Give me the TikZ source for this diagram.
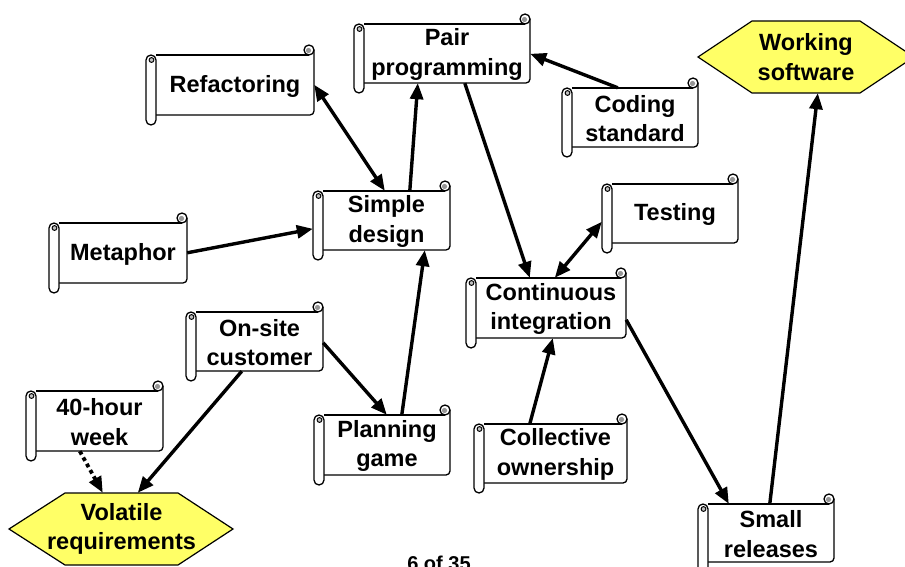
\documentclass[tikz,border=0pt]{standalone}
\usepackage{fontspec}
\setmainfont{Liberation Sans}
\usetikzlibrary{arrows.meta,calc}

\definecolor{hexyellow}{RGB}{255,255,102}
\definecolor{curlgray}{RGB}{150,150,150}

\tikzset{
  arw/.tip={Triangle[length=16pt,width=13pt]},
  scrollline/.style={draw=black, line width=1.3pt, line join=round},
  lbl/.style={font=\fontsize{23.5}{29.5}\selectfont\bfseries, align=center, text=black, inner sep=0pt},
  conn/.style={line width=3.4pt, -arw},
  connboth/.style={line width=3.4pt, arw-arw},
  conndot/.style={line width=3.8pt, dash pattern=on 3.8pt off 3.4pt, -arw},
  hexshape/.style={fill=hexyellow, draw=black, line width=1.2pt, line join=miter},
}

% Horizontal scroll: #1 name, #2 left, #3 top, #4 right, #5 bottom, #6 text
\newcommand\scrollbox[6]{%
  \fill[white] (#2+10,#3) rectangle (#4,#5);
  \draw[scrollline] (#2+10,#3) -- (#4-5,#3);
  \draw[scrollline, rounded corners=4pt] (#4,#3-5) -- (#4,#5) -- (#2+10,#5);
  \draw[scrollline, fill=white] (#4-5,#3-5) circle[radius=5pt];
  \fill[curlgray] (#4-5.5,#3-4.5) circle[radius=2.6pt];
  \draw[scrollline, fill=white, rounded corners=5pt] (#2,#3) rectangle (#2+10,#5+10);
  \draw[line width=1pt, fill=curlgray!60] (#2+5.5,#3+5) circle[radius=2.4pt];
  \node[name=#1, shape=rectangle, inner sep=0pt,
        minimum width={(#4-#2-10)*1pt}, minimum height={(#5-#3)*1pt}]
        at ({(#2+10+#4)/2},{(#3+#5)/2}) {};
  \node[lbl] at ($(#1)+(0,1)$) {#6};
}

% Hexagon: #1 name, #2 left tip, #3 top-left, #4 top-right, #5 right tip, #6 top, #7 bottom, #8 text
\newcommand\hexbox[8]{%
  \draw[hexshape] (#2,{(#6+#7)/2}) -- (#3,#6) -- (#4,#6) -- (#5,{(#6+#7)/2})
        -- (#4,#7) -- (#3,#7) -- cycle;
  \node[name=#1, shape=rectangle, inner sep=0pt,
        minimum width={(#4-#3)*1pt}, minimum height={(#7-#6)*1pt}]
        at ({(#3+#4)/2},{(#6+#7)/2}) {};
  \node[lbl] at (#1) {#8};
}

\begin{document}
\begin{tikzpicture}[x=1pt, y=-1pt]
\fill[white] (0,0) rectangle (905,567);
\useasboundingbox (0,0) rectangle (905,567);

% practices
\scrollbox{ref}{146}{55}{314}{115}{Refactoring}
\scrollbox{pp}{354}{24}{530}{83}{Pair\\programming}
\scrollbox{cs}{562}{88}{698}{147}{Coding\\standard}
\scrollbox{sd}{313}{191}{450}{250}{Simple\\design}
\scrollbox{met}{49}{223}{187}{283}{Metaphor}
\scrollbox{test}{602}{184}{738}{243}{Testing}
\scrollbox{ci}{466}{278}{626}{338}{Continuous\\integration}
\scrollbox{osc}{186}{312}{323}{371}{On-site\\customer}
\scrollbox{pg}{314}{415}{450}{475}{Planning\\game}
\scrollbox{co}{474}{424}{627}{483}{Collective\\ownership}
\scrollbox{hw}{26}{391}{163}{451}{40-hour\\week}
\scrollbox{sr}{698}{504}{834}{562}{Small\\releases}

% goals
\hexbox{ws}{698}{752}{860}{914}{21}{93}{Working\\software}
\hexbox{vr}{9}{65}{178}{233}{493}{565}{Volatile\\requirements}

% relations
\draw[connboth] ($(sd.north west)+(62,0)$) -- ($(ref.north east)+(0,30)$);
\draw[conn] ($(sd.north west)+(87,0)$) -- ($(pp.south west)+(54,0)$);
\draw[conn] ($(pp.south west)+(101,0)$) -- ($(ci.north west)+(54,0)$);
\draw[conn] ($(cs.north west)+(46,0)$) -- ($(pp.north east)+(0,30)$);
\draw[conn] ($(met.north east)+(0,30)$) -- ($(sd.north west)+(-10,38)$);
\draw[connboth] ($(ci.north west)+(79,0)$) -- ($(test.north west)+(-10,38)$);
\draw[conn] ($(co.north west)+(46,0)$) -- ($(ci.south west)+(77,0)$);
\draw[conn] ($(ci.north east)+(0,42)$) -- ($(sr.north west)+(21,0)$);
\draw[conn] ($(sr.north west)+(62,0)$) -- ($(ws.south west)+(66,0)$);
\draw[conn] ($(osc.north east)+(0,31)$) -- ($(pg.north west)+(63,0)$);
\draw[conn] ($(pg.north west)+(78,0)$) -- ($(sd.south west)+(102,0)$);
\draw[conn] ($(osc.south west)+(46,0)$) -- ($(vr.north west)+(73,0)$);
\draw[conndot] ($(hw.south west)+(44,0)$) -- ($(vr.north west)+(38,0)$);

% slide number
\node[font=\fontsize{20}{24}\selectfont\bfseries, anchor=base, inner sep=0pt] (pgno) at (439,570) {6 of 35};
\end{tikzpicture}
\end{document}
